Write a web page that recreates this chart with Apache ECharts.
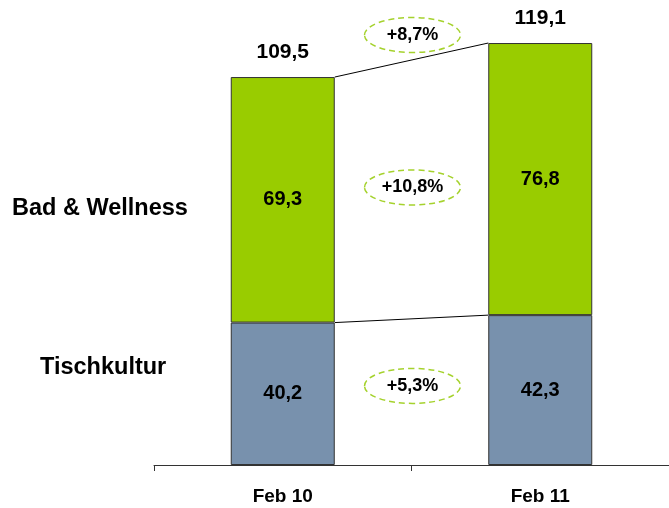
<!DOCTYPE html>
<html>
<head>
<meta charset="utf-8">
<script src="https://cdn.jsdelivr.net/npm/echarts@6/dist/echarts.min.js"></script>
<style>
  html, body { margin: 0; padding: 0; background: #fff; }
  #main { width: 669px; height: 508px; }
</style>
</head>
<body>
<div id="main"></div>
<script>
// Daten
var months = ['Feb 10', 'Feb 11'];
var tischkultur = [40.2, 42.3];
var badWellness = [69.3, 76.8];
var totals = [109.5, 119.1];
var growthLabels = ['+8,7%', '+10,8%', '+5,3%']; // gesamt, Bad & Wellness, Tischkultur

var FONT = 'Liberation Sans, Arial, sans-serif';
var fmt = function (v) { return String(v).replace('.', ','); };

var myChart = echarts.init(document.getElementById('main'));

// Verbindungslinien, Ellipsen und Summen
function renderExtras(params, api) {
  var half = 52;
  var children = [];
  var p0, p1;
  // Linien zwischen den Balken
  [totals, tischkultur].forEach(function (arr) {
    p0 = api.coord([0, arr[0]]);
    p1 = api.coord([1, arr[1]]);
    children.push({
      type: 'line',
      shape: { x1: p0[0] + half, y1: p0[1], x2: p1[0] - half, y2: p1[1] },
      style: { stroke: '#000', lineWidth: 1 }
    });
  });
  // Summen ueber den Balken
  totals.forEach(function (t, i) {
    var p = api.coord([i, t]);
    children.push({
      type: 'text',
      style: { text: fmt(t), x: p[0], y: p[1] - 25, align: 'center', verticalAlign: 'middle',
        fontFamily: FONT, fontWeight: 'bold', fontSize: 21, fill: '#000' }
    });
  });
  // Ellipsen mit Wachstum
  var a0 = api.coord([0, 0]);
  var a1 = api.coord([1, 0]);
  var cx = (a0[0] + a1[0]) / 2 + 1;
  var topY = Math.min(api.coord([0, totals[0]])[1], api.coord([1, totals[1]])[1]);
  var midGreen = (api.coord([0, tischkultur[0] + badWellness[0] / 2])[1] +
                  api.coord([1, tischkultur[1] + badWellness[1] / 2])[1]) / 2;
  var midBlue = (api.coord([0, tischkultur[0] / 2])[1] + api.coord([1, tischkultur[1] / 2])[1]) / 2;
  var ys = [topY - 8, midGreen - 2, midBlue - 6];
  growthLabels.forEach(function (lbl, i) {
    children.push({
      type: 'ellipse',
      shape: { cx: cx, cy: ys[i], rx: 48, ry: 17.5 },
      style: { fill: 'rgba(255,255,255,0)', stroke: '#a5d22d', lineWidth: 1.5, lineDash: [6, 4] }
    });
    children.push({
      type: 'text',
      style: { text: lbl, x: cx, y: ys[i], align: 'center', verticalAlign: 'middle',
        fontFamily: FONT, fontWeight: 'bold', fontSize: 18, fill: '#000' }
    });
  });
  return { type: 'group', children: children };
}

var option = {
  animation: false,
  grid: { left: 154, width: 518, top: 4.4, bottom: 43 },
  xAxis: {
    type: 'category',
    data: months,
    boundaryGap: true,
    axisLine: { lineStyle: { color: '#333', width: 1 } },
    axisTick: { show: true, length: 6, lineStyle: { color: '#333' } },
    axisLabel: { color: '#000', fontFamily: FONT, fontWeight: 'bold', fontSize: 19, margin: 22 }
  },
  yAxis: { type: 'value', min: 0, max: 130, show: false, splitLine: { show: false } },
  series: [
    {
      name: 'Tischkultur',
      type: 'bar',
      stack: 'gesamt',
      barWidth: 104,
      data: tischkultur,
      itemStyle: { color: '#7891ad', borderColor: '#333', borderWidth: 1 },
      label: { show: true, position: 'inside', formatter: function (p) { return fmt(p.value); },
        color: '#000', fontFamily: FONT, fontWeight: 'bold', fontSize: 20 }
    },
    {
      name: 'Bad & Wellness',
      type: 'bar',
      stack: 'gesamt',
      barWidth: 104,
      data: badWellness,
      itemStyle: { color: '#99cc00', borderColor: '#333', borderWidth: 1 },
      label: { show: true, position: 'inside', formatter: function (p) { return fmt(p.value); },
        color: '#000', fontFamily: FONT, fontWeight: 'bold', fontSize: 20 }
    },
    {
      type: 'custom',
      renderItem: renderExtras,
      data: [[0, 0]],
      silent: true,
      z: 5
    }
  ],
  graphic: [
    { type: 'text', x: 12, y: 209, style: { text: 'Bad & Wellness', verticalAlign: 'middle',
      fontFamily: FONT, fontWeight: 'bold', fontSize: 23.5, fill: '#000' } },
    { type: 'text', x: 40, y: 368, style: { text: 'Tischkultur', verticalAlign: 'middle',
      fontFamily: FONT, fontWeight: 'bold', fontSize: 23.5, fill: '#000' } }
  ]
};

myChart.setOption(option);
</script>
</body>
</html>
